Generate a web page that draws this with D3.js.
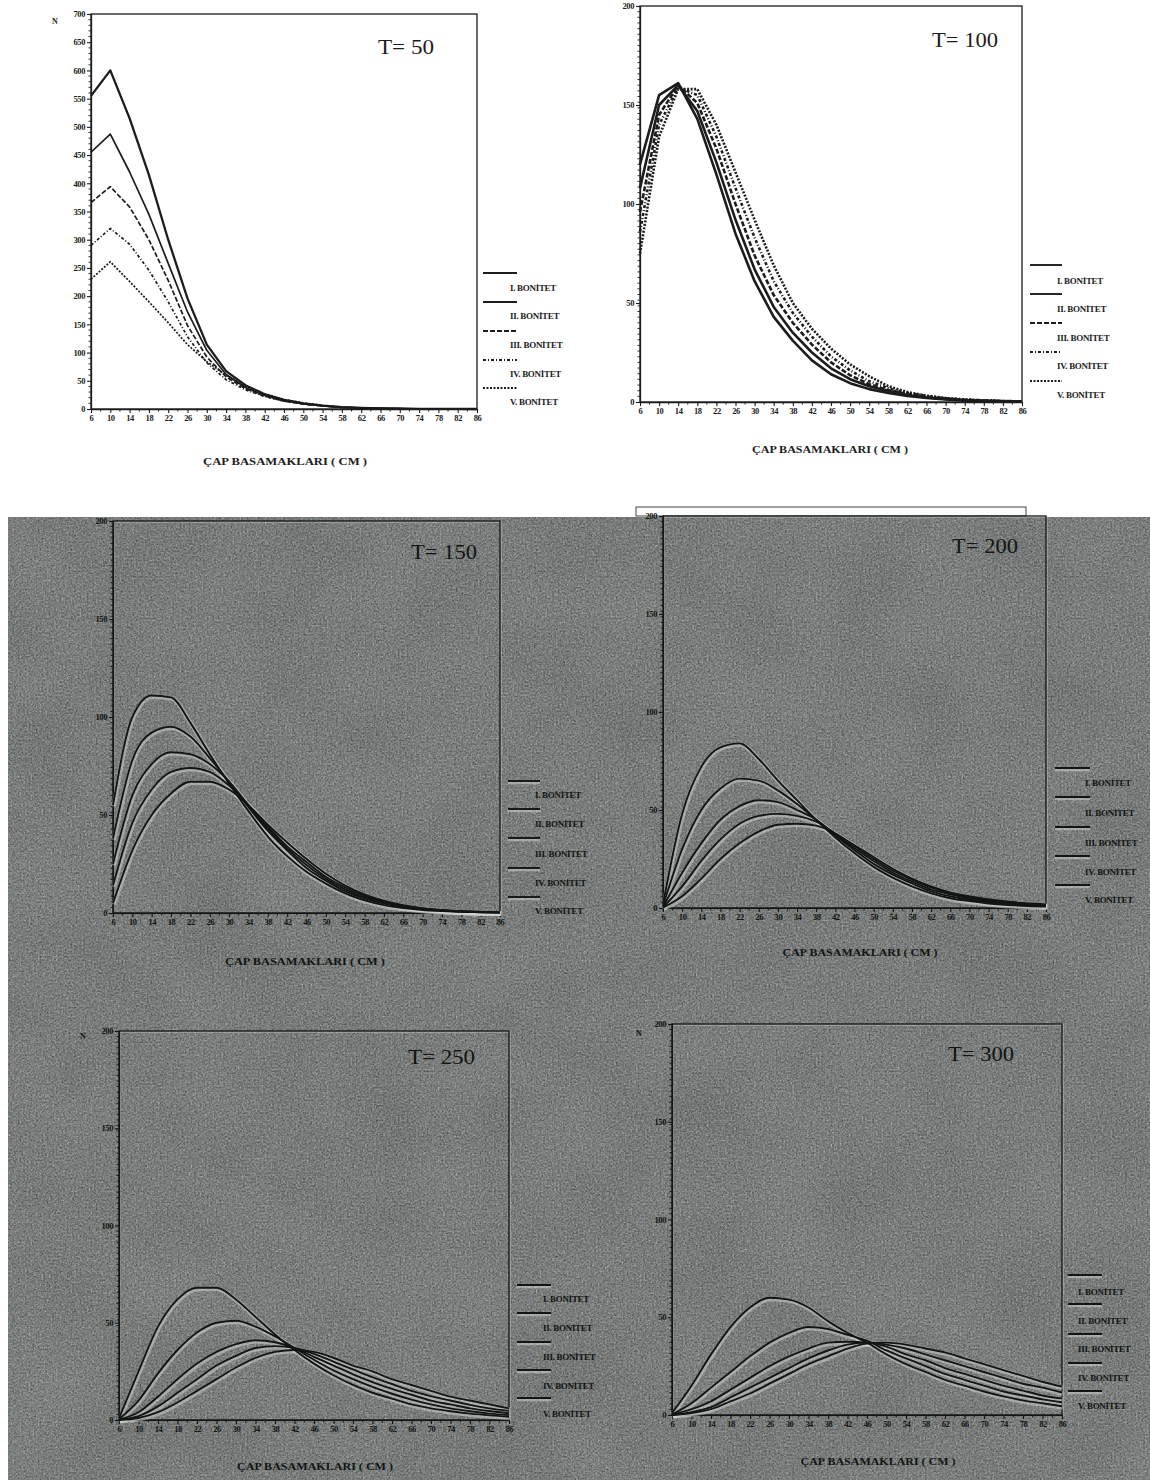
<!DOCTYPE html>
<html>
<head>
<meta charset="utf-8">
<script src="https://cdn.jsdelivr.net/npm/d3@7"></script>
<style>
  body { margin: 0; background: #fff; }
  svg { display: block; }
  text { font-family: "Liberation Serif", "DejaVu Serif", serif; }
</style>
</head>
<body>
<svg id="chart" width="1150" height="1480"></svg>
<script>
// Çap basamakları (cm) and their tick labels
const capBasamaklari = [6, 10, 14, 18, 22, 26, 30, 34, 38, 42, 46, 50, 54, 58, 62, 66, 70, 74, 78, 82, 86];
const xTickLabels = ["6", "10", "14", "18", "22", "26", "30", "34", "38", "42", "46", "50", "54", "58", "62", "66", "70", "74", "78", "82", "86"];
const bonitetLabels = ["I. BONİTET", "II. BONİTET", "III. BONİTET", "IV. BONİTET", "V. BONİTET"];
const yTicks700 = [0, 50, 100, 150, 200, 250, 300, 350, 400, 450, 500, 550, 600, 650, 700];
const yTicks200 = [0, 50, 100, 150, 200];

// N (ağaç sayısı) per diameter class, T = 50
const t50_I   = [555, 600, 515, 415, 300, 196, 114, 67, 42, 26, 16, 10, 6, 3.5, 2, 1, 0.6, 0.3, 0.2, 0.1, 0];
const t50_II  = [455, 487, 420, 345, 258, 172, 104, 61, 38, 24, 15, 9, 5.5, 3, 1.8, 1, 0.5, 0.3, 0.2, 0.1, 0];
const t50_III = [366, 394, 358, 300, 228, 148, 92, 57, 36, 23, 14, 9, 5.5, 3, 1.8, 1, 0.5, 0.3, 0.2, 0.1, 0];
const t50_IV  = [290, 320, 292, 246, 190, 128, 82, 52, 34, 22, 14, 9, 5.5, 3, 1.8, 1, 0.5, 0.3, 0.2, 0.1, 0];
const t50_V   = [230, 261, 226, 190, 153, 114, 84, 60, 41, 27, 17, 11, 6.5, 3.5, 2, 1.1, 0.6, 0.3, 0.2, 0.1, 0];

// T = 100
const t100_I   = [120, 155, 161, 143, 115, 85, 61, 43, 31, 21, 14, 9.5, 6.5, 4.5, 3, 2, 1.3, 0.8, 0.5, 0.3, 0.2];
const t100_II  = [108, 150, 160, 147, 121, 92, 67, 48, 35, 25, 17, 11.5, 8, 5.5, 3.5, 2.3, 1.5, 0.9, 0.6, 0.4, 0.2];
const t100_III = [96, 145, 160, 151, 128, 100, 74, 54, 40, 29, 20, 13.5, 9, 6, 4, 2.6, 1.7, 1, 0.7, 0.4, 0.2];
const t100_IV  = [86, 140, 159, 155, 134, 108, 83, 61, 45, 33, 23, 16, 10.5, 7, 4.5, 3, 1.9, 1.2, 0.8, 0.5, 0.3];
const t100_V   = [75, 134, 158, 158, 140, 116, 92, 69, 50, 37, 27, 19, 13, 8, 5, 3.2, 2, 1.3, 0.8, 0.5, 0.3];

// T = 150
const t150_I   = [55, 100, 111, 110, 97, 81, 66, 52, 39, 29, 21, 15, 10, 6.5, 4, 2.5, 1.5, 1, 0.6, 0.4, 0.2];
const t150_II  = [38, 78, 92, 95, 90, 79, 67, 54, 42, 32, 23, 16.5, 11, 7.5, 4.8, 3, 1.9, 1.2, 0.7, 0.4, 0.2];
const t150_III = [25, 60, 76, 82, 81, 76, 67, 55, 43, 33, 24.5, 17.5, 12, 8, 5.2, 3.3, 2.1, 1.3, 0.8, 0.5, 0.3];
const t150_IV  = [14, 46, 63, 72, 74, 72, 65, 55, 44, 34, 26, 18.5, 13, 8.8, 5.8, 3.7, 2.3, 1.4, 0.9, 0.5, 0.3];
const t150_V   = [5, 32, 50, 61, 67, 67, 63, 55, 45, 36, 27.5, 20, 14, 9.5, 6.3, 4, 2.5, 1.6, 1, 0.6, 0.3];

// T = 200
const t200_I   = [2, 48, 72, 82, 84, 76, 65, 55, 45, 36, 28, 21, 15.5, 11, 7.5, 5, 3.5, 2.3, 1.5, 1, 0.7];
const t200_II  = [1, 30, 50, 61, 66, 65, 60, 53, 45, 37, 29.5, 22.5, 17, 12.5, 8.5, 6, 4.2, 2.9, 2, 1.4, 1];
const t200_III = [0.5, 18, 33, 45, 52, 55, 54, 50, 45, 37.5, 30.5, 24, 18, 13.5, 9.5, 7, 5, 3.5, 2.5, 1.8, 1.3];
const t200_IV  = [0.3, 11, 24, 35, 43, 47, 48, 47, 44, 38, 31.5, 25, 19, 14.5, 10.5, 7.5, 5.5, 4, 2.9, 2.1, 1.5];
const t200_V   = [0.2, 6, 15, 25, 33, 39, 42.5, 43, 42, 38, 32, 26, 20, 15, 11, 8, 6, 4.5, 3.3, 2.4, 1.8];

// T = 250
const t250_I   = [1, 25, 48, 62, 68, 68, 62, 53, 44, 36, 29, 23, 18, 14, 11, 8, 6, 4.5, 3.3, 2.4, 1.7];
const t250_II  = [0.5, 10, 24, 36, 45, 50, 51, 48, 43, 37, 31, 25.5, 21, 17, 13.5, 10.5, 8, 6, 4.5, 3.3, 2.5];
const t250_III = [0.2, 4, 12, 21, 29, 35, 39, 41, 40, 37, 32.5, 28, 23.5, 19.5, 16, 13, 10, 8, 6, 4.6, 3.5];
const t250_IV  = [0.1, 2, 7, 14, 21, 28, 33, 37, 38, 37, 34, 30, 26, 22, 18.5, 15, 12.3, 10, 7.8, 6, 4.7];
const t250_V   = [0, 1, 4, 9, 15, 21, 27, 32, 35, 36, 35, 32, 28, 25, 21, 18, 15, 12, 10, 8, 6];

// T = 300
const t300_I   = [1, 15, 31, 45, 55, 60, 59, 55, 48, 42, 37, 31, 26, 22, 18, 15, 12, 9.5, 7.5, 6, 4.5];
const t300_II  = [0.3, 6, 14, 22, 30, 37, 42, 45, 44, 41, 38, 33, 29, 25, 21, 18, 15, 12, 10, 8, 6.5];
const t300_III = [0.1, 3, 7, 13, 19, 25, 30, 34, 37, 37.5, 37, 35, 31, 28, 24, 21, 18, 15, 12.5, 10, 8.5];
const t300_IV  = [0, 1.5, 4, 9, 14, 19, 24, 29, 33, 36, 37, 36, 34, 31, 28, 25, 22, 19, 16, 14, 11.5];
const t300_V   = [0, 1, 3, 7, 11, 16, 21, 26, 30, 34, 36.5, 37, 36, 34, 32, 29, 26, 23, 20, 17, 14.5];

const svg = d3.select("#chart");
const defs = svg.append("defs");

// photocopy grain for the lower sheet
const grain = defs.append("filter").attr("id", "grain")
  .attr("color-interpolation-filters", "sRGB")
  .attr("x", 0).attr("y", 0).attr("width", "100%").attr("height", "100%");
grain.append("feTurbulence").attr("type", "fractalNoise").attr("baseFrequency", 0.55)
  .attr("numOctaves", 2).attr("seed", 11).attr("result", "n");
grain.append("feColorMatrix").attr("in", "n").attr("type", "matrix")
  .attr("values", "0.6 0.6 0.6 0 -0.4  0.6 0.6 0.6 0 -0.4  0.6 0.6 0.6 0 -0.4  0 0 0 0 1");
const blotch = defs.append("filter").attr("id", "blotch")
  .attr("color-interpolation-filters", "sRGB")
  .attr("x", 0).attr("y", 0).attr("width", "100%").attr("height", "100%");
blotch.append("feTurbulence").attr("type", "fractalNoise").attr("baseFrequency", 0.012)
  .attr("numOctaves", 3).attr("seed", 4).attr("result", "n");
blotch.append("feColorMatrix").attr("in", "n").attr("type", "matrix")
  .attr("values", "0.33 0.33 0.33 0 0  0.33 0.33 0.33 0 0  0.33 0.33 0.33 0 0  0 0 0 0 1");

// grey sheet holding the four lower charts
const sheet = { x: 8, y: 517 };
svg.append("rect").attr("x", sheet.x).attr("y", sheet.y)
  .attr("width", 1150 - sheet.x).attr("height", 1480 - sheet.y).attr("fill", "#737a77");
svg.append("rect").attr("x", sheet.x).attr("y", sheet.y)
  .attr("width", 1150 - sheet.x).attr("height", 1480 - sheet.y)
  .attr("filter", "url(#blotch)").attr("opacity", 0.14);
svg.append("rect").attr("x", sheet.x).attr("y", sheet.y)
  .attr("width", 1150 - sheet.x).attr("height", 1480 - sheet.y)
  .attr("filter", "url(#grain)").attr("opacity", 0.4);
// pasted white strip at the top of the T=200 chart
svg.append("rect").attr("x", 636).attr("y", 507).attr("width", 390).attr("height", 9)
  .attr("fill", "#fbfbfb").attr("stroke", "#444").attr("stroke-width", 1);

const seriesDash = [null, null, "5,2", "3,2,1,2", "2,1.5"];

const panels = [
  { title: "T= 50", series: [t50_I, t50_II, t50_III, t50_IV, t50_V], yTicks: yTicks700, yMax: 700,
    box: { l: 91, r: 477, t: 14, b: 409 }, dark: false, curve: d3.curveLinear, lw: [2.3, 1.7, 1.7, 1.7, 1.7],
    titleAt: [378, 54, 56], axisTitleAt: [285, 465, 164], yName: [52, 24],
    legend: { x1: 483, x2: 517, ys: [273, 302, 331, 360, 388], tx: 510, ty: [291, 319, 348, 377, 405] } },
  { title: "T= 100", series: [t100_I, t100_II, t100_III, t100_IV, t100_V], yTicks: yTicks200, yMax: 200,
    box: { l: 640, r: 1022, t: 6, b: 402 }, dark: false, curve: d3.curveLinear, lw: [2.6, 2.6, 2.6, 2.6, 2.6],
    titleAt: [932, 47, 66], axisTitleAt: [830, 453, 156], yName: null,
    legend: { x1: 1030, x2: 1062, ys: [265, 294, 323, 352, 381], tx: 1057, ty: [284, 312, 341, 369, 398] } },
  { title: "T= 150", series: [t150_I, t150_II, t150_III, t150_IV, t150_V], yTicks: yTicks200, yMax: 200,
    box: { l: 113, r: 500, t: 521, b: 913 }, dark: true, curve: d3.curveMonotoneX, lw: [1.9, 1.9, 1.9, 1.9, 1.9],
    titleAt: [411, 559, 66], axisTitleAt: [305, 965, 160], yName: null,
    legend: { x1: 508, x2: 540, ys: [781, 809, 838, 868, 897], tx: 535, ty: [798, 827, 857, 886, 914] } },
  { title: "T= 200", series: [t200_I, t200_II, t200_III, t200_IV, t200_V], yTicks: yTicks200, yMax: 200,
    box: { l: 663, r: 1046, t: 516, b: 908 }, dark: true, curve: d3.curveMonotoneX, lw: [1.9, 1.9, 1.9, 1.9, 1.9],
    titleAt: [952, 553, 66], axisTitleAt: [860, 956, 155], yName: null,
    legend: { x1: 1055, x2: 1090, ys: [768, 797, 827, 856, 885], tx: 1085, ty: [786, 816, 846, 875, 903] } },
  { title: "T= 250", series: [t250_I, t250_II, t250_III, t250_IV, t250_V], yTicks: yTicks200, yMax: 200,
    box: { l: 119, r: 509, t: 1031, b: 1420 }, dark: true, curve: d3.curveMonotoneX, lw: [1.9, 1.9, 1.9, 1.9, 1.9],
    titleAt: [408, 1064, 67], axisTitleAt: [315, 1470, 156], yName: [80, 1039],
    legend: { x1: 517, x2: 551, ys: [1285, 1313, 1342, 1370, 1398], tx: 543, ty: [1302, 1331, 1360, 1389, 1417] } },
  { title: "T= 300", series: [t300_I, t300_II, t300_III, t300_IV, t300_V], yTicks: yTicks200, yMax: 200,
    box: { l: 672, r: 1062, t: 1024, b: 1415 }, dark: true, curve: d3.curveMonotoneX, lw: [1.9, 1.9, 1.9, 1.9, 1.9],
    titleAt: [948, 1061, 66], axisTitleAt: [878, 1465, 155], yName: [636, 1036],
    legend: { x1: 1068, x2: 1102, ys: [1275, 1304, 1334, 1363, 1391], tx: 1078, ty: [1295, 1324, 1352, 1381, 1409] } }
];

function drawPanel(p) {
  const ink = p.dark ? "#111513" : "#1c1c1c";
  const halo = "#d3d8d5";
  const g = svg.append("g");
  const x = d3.scaleLinear().domain([6, 86]).range([p.box.l, p.box.r]);
  const y = d3.scaleLinear().domain([0, p.yMax]).range([p.box.b, p.box.t]);

  // frame
  if (p.dark) {
    g.append("rect").attr("x", p.box.l + 1).attr("y", p.box.t + 1)
      .attr("width", p.box.r - p.box.l).attr("height", p.box.b - p.box.t)
      .attr("fill", "none").attr("stroke", halo).attr("stroke-opacity", 0.45).attr("stroke-width", 1.5);
  }
  g.append("rect").attr("x", p.box.l).attr("y", p.box.t)
    .attr("width", p.box.r - p.box.l).attr("height", p.box.b - p.box.t)
    .attr("fill", "none").attr("stroke", ink).attr("stroke-width", 1.3);

  // minor ticks
  const minorX = d3.range(8, 86, 4);
  g.append("g").selectAll("line").data(minorX).join("line")
    .attr("x1", d => x(d)).attr("x2", d => x(d))
    .attr("y1", p.box.b).attr("y2", p.box.b + 2.5)
    .attr("stroke", ink).attr("stroke-width", 1);
  const minorY = d3.range(0, p.yMax, p.yMax / 70).filter(v => v % 50 !== 0);
  g.append("g").selectAll("line").data(minorY).join("line")
    .attr("x1", p.box.l - 2.5).attr("x2", p.box.l)
    .attr("y1", d => y(d)).attr("y2", d => y(d))
    .attr("stroke", ink).attr("stroke-width", 0.9);

  // axes
  const xAxis = d3.axisBottom(x).tickValues(capBasamaklari)
    .tickFormat((d, i) => xTickLabels[i]).tickSize(4).tickSizeOuter(0).tickPadding(2);
  const gx = g.append("g").attr("transform", `translate(0,${p.box.b})`).call(xAxis);
  const yAxis = d3.axisLeft(y).tickValues(p.yTicks).tickSize(4).tickSizeOuter(0).tickPadding(2);
  const gy = g.append("g").attr("transform", `translate(${p.box.l},0)`).call(yAxis);
  [gx, gy].forEach(a => {
    a.select(".domain").attr("stroke", ink).attr("stroke-width", 1.3);
    a.selectAll(".tick line").attr("stroke", ink).attr("stroke-width", 1.1);
    a.selectAll(".tick text").attr("fill", ink).attr("font-size", 8.5).attr("font-weight", "bold")
      .attr("font-family", "Liberation Serif, serif").attr("letter-spacing", -0.4);
  });

  // curves
  const line = d3.line().x((d, i) => x(capBasamaklari[i])).y(d => y(d)).curve(p.curve);
  const lg = g.append("g");
  if (p.dark) {
    lg.selectAll("path.halo").data(p.series).join("path").attr("class", "halo")
      .attr("d", line).attr("fill", "none").attr("stroke", halo)
      .attr("stroke-opacity", 0.5).attr("stroke-width", 4.5)
      .attr("transform", "translate(0.8,1.2)");
  }
  lg.selectAll("path.curve").data(p.series).join("path").attr("class", "curve")
    .attr("d", line).attr("fill", "none").attr("stroke", ink)
    .attr("stroke-linejoin", "round")
    .attr("stroke-width", (d, i) => p.lw[i])
    .attr("stroke-dasharray", (d, i) => p.dark ? null : seriesDash[i]);

  // title
  g.append("text").attr("x", p.titleAt[0]).attr("y", p.titleAt[1])
    .attr("font-size", 22).attr("fill", ink)
    .attr("textLength", p.titleAt[2]).attr("lengthAdjust", "spacingAndGlyphs")
    .text(p.title);

  // axis title
  g.append("text").attr("x", p.axisTitleAt[0] - p.axisTitleAt[2] / 2).attr("y", p.axisTitleAt[1])
    .attr("font-size", 10).attr("font-weight", "bold").attr("fill", ink)
    .attr("textLength", p.axisTitleAt[2]).attr("lengthAdjust", "spacingAndGlyphs")
    .text("ÇAP BASAMAKLARI ( CM )");

  if (p.yName) {
    g.append("text").attr("x", p.yName[0]).attr("y", p.yName[1])
      .attr("font-size", 8).attr("font-weight", "bold").attr("fill", ink).text("N");
  }

  // legend
  const lgd = g.append("g");
  bonitetLabels.forEach((lab, i) => {
    if (p.dark) {
      lgd.append("line").attr("x1", p.legend.x1).attr("x2", p.legend.x2)
        .attr("y1", p.legend.ys[i] + 1.5).attr("y2", p.legend.ys[i] + 1.5)
        .attr("stroke", halo).attr("stroke-opacity", 0.5).attr("stroke-width", 3.5);
    }
    lgd.append("line").attr("x1", p.legend.x1).attr("x2", p.legend.x2)
      .attr("y1", p.legend.ys[i]).attr("y2", p.legend.ys[i])
      .attr("stroke", ink).attr("stroke-width", 1.9)
      .attr("stroke-dasharray", p.dark ? null : seriesDash[i]);
    lgd.append("text").attr("x", p.legend.tx).attr("y", p.legend.ty[i])
      .attr("font-size", 9).attr("font-weight", "bold").attr("fill", ink)
      .attr("letter-spacing", -0.3).text(lab);
  });
}

panels.forEach(drawPanel);
</script>
</body>
</html>
